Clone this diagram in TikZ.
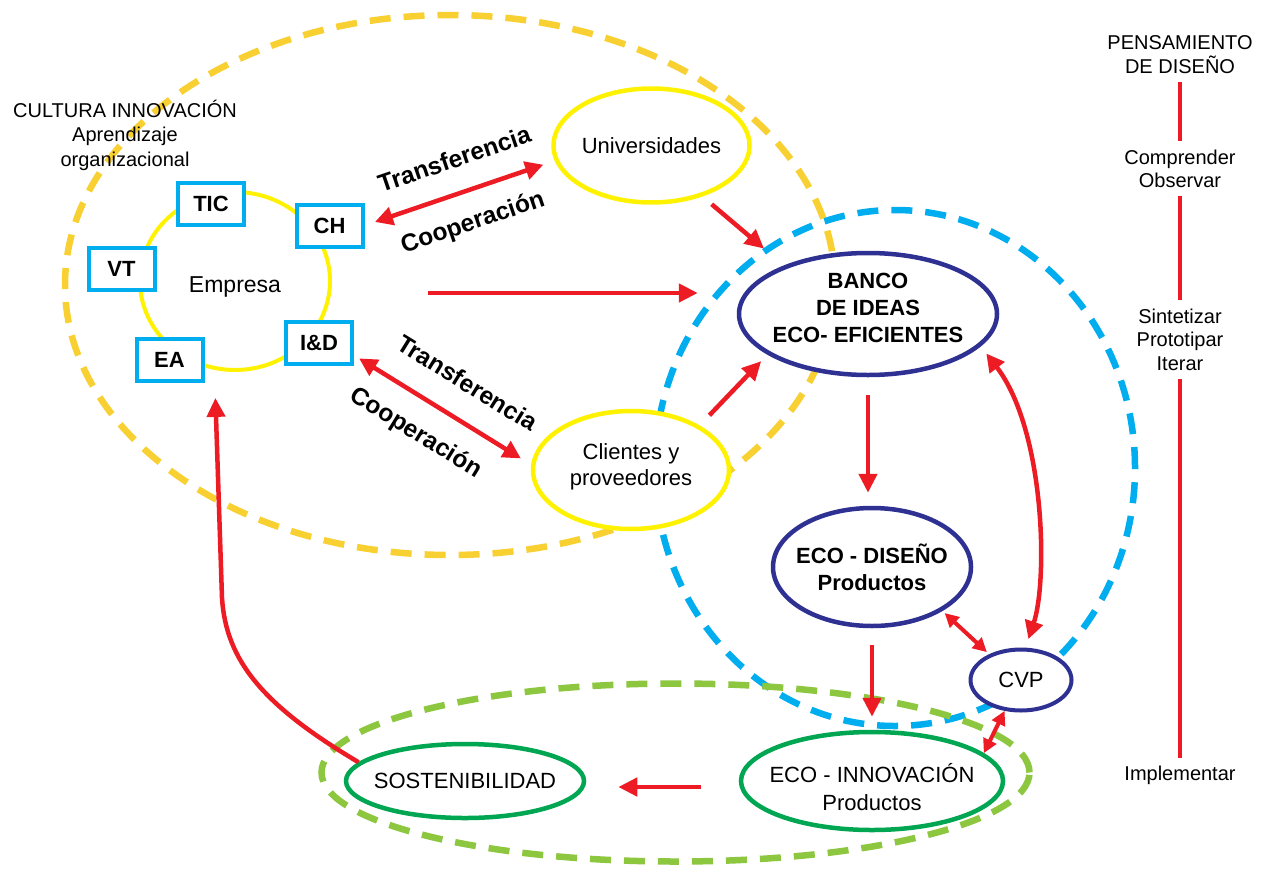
\documentclass[tikz,border=0pt]{standalone}
\usepackage{fontspec}
\setmainfont{Liberation Sans}
\usepackage{tikz}
\usetikzlibrary{arrows.meta,positioning,shapes.geometric}

\definecolor{zonegold}{RGB}{248,208,50}
\definecolor{ringyel}{RGB}{255,242,0}
\definecolor{tagcyan}{RGB}{0,174,239}
\definecolor{ovalnavy}{RGB}{46,49,146}
\definecolor{ovalgreen}{RGB}{0,166,81}
\definecolor{zonelime}{RGB}{141,198,63}
\definecolor{flowred}{RGB}{237,28,36}

\newcommand{\fsz}[2]{\fontsize{#1}{#2}\selectfont}

\begin{document}
\begin{tikzpicture}[x=1pt, y=-1pt,
			zone/.style={line width=6.5pt, dash pattern=on 21pt off 13pt},
			bubble/.style={ellipse, line width=4.5pt, fill=white, inner sep=0pt,
				inner xsep=-20pt, align=center, font=\fsz{22}{27}},
			yelnd/.style={bubble, draw=ringyel},
			navnd/.style={bubble, draw=ovalnavy},
			grnnd/.style={bubble, draw=ovalgreen},
			tagbox/.style={draw=tagcyan, line width=4pt, fill=white, inner sep=0pt,
				minimum width=66pt, minimum height=42pt, font=\fsz{22}{26}\bfseries},
			flow/.style={draw=flowred, line width=4.5pt, -{Triangle[length=19pt,width=18pt]}},
			biflow/.style={draw=flowred, line width=4.5pt,
				{Triangle[length=18pt,width=18pt]}-{Triangle[length=18pt,width=18pt]}},
			smallbi/.style={draw=flowred, line width=4pt,
				{Triangle[length=14pt,width=14pt]}-{Triangle[length=14pt,width=14pt]}},
			ann/.style={font=\fsz{24.5}{28}\bfseries, inner sep=0pt},
			sidetxt/.style={align=center, font=\fsz{20}{23.5}, inner xsep=0pt, inner ysep=8pt},
			vline/.style={draw=flowred, line width=4.5pt},
			]
			
			%% ── Canvas ───────────────────────────────────────────────────────────────────
			\path[use as bounding box, fill=white] (0,0) rectangle (1265,875);
			
			%% ── Dashed zones ─────────────────────────────────────────────────────────────
			\draw[zone, draw=zonegold] (450,285) ellipse [x radius=385pt, y radius=270pt];
			\draw[zone, draw=tagcyan]  (895,468) ellipse [x radius=240pt, y radius=258pt];
			\draw[zone, draw=zonelime] (675.5,772.5) ellipse [x radius=354pt, y radius=89pt];
			
			%% ── Empresa ring and its tags ────────────────────────────────────────────────
			\node[yelnd, line width=4pt, minimum width=190pt, minimum height=178pt,
				text height=28pt, font=\fsz{23}{27}] (empresa) at (235,281) {Empresa};
			\node[tagbox] (tic) at (211,204)     {TIC};
			\node[tagbox] (ch)  at (329.5,225.5) {CH};
			\node[tagbox] (vt)  at (121.5,268.5) {VT};
			\node[tagbox] (ea)  at (169.5,360)   {EA};
			\node[tagbox] (iad) at (319,342.5)   {I\&D};
			
			\node[align=center, font=\fsz{20}{24.5}] (cultura) at (125,135)
			{CULTURA INNOVACIÓN\\Aprendizaje\\organizacional};
			
			%% ── Partners ─────────────────────────────────────────────────────────────────
			\node[yelnd, minimum width=196pt, minimum height=114pt] (univ) at (651.5,145.5)
			{Universidades};
			\node[yelnd, minimum width=196pt, minimum height=118pt, text depth=11.5pt,
				font=\fsz{22}{26}] (clientes) at (631,470) {Clientes y\\proveedores};
			
			%% ── Eco chain ────────────────────────────────────────────────────────────────
			\node[navnd, minimum width=258pt, minimum height=122pt, text depth=12pt,
				font=\fsz{22}{27}\bfseries] (banco) at (868,314)
			{BANCO\\DE IDEAS\\ECO- EFICIENTES};
			\node[navnd, minimum width=198pt, minimum height=118pt,
				font=\fsz{22}{27}\bfseries] (ecodis) at (872,567)
			{ECO - DISEÑO\\Productos};
			\node[navnd, line width=4pt, minimum width=101pt, minimum height=61pt]
			(cvp) at (1021,680) {CVP};
			\node[grnnd, minimum width=238pt, minimum height=74pt] (sosten) at (465,781)
			{SOSTENIBILIDAD};
			\node[grnnd, minimum width=262pt, minimum height=98pt, text height=59pt,
				font=\fsz{22}{28}] (ecoinno) at (872,781) {ECO - INNOVACIÓN\\Productos};
			
			%% ── Transfer links ───────────────────────────────────────────────────────────
			\draw[biflow, shorten <=11pt, shorten >=12pt] (ch.east) -- (univ.189)
			node[ann, sloped, pos=0.53, above=23pt] {Transferencia}
			node[ann, sloped, pos=0.515, below=19pt] {Cooperación};
			\draw[biflow, shorten <=6pt, shorten >=12pt] (iad.-20) -- (clientes.177)
			node[ann, sloped, pos=0.533, above=25pt] {Transferencia}
			node[ann, sloped, pos=0.448, below=20pt] {Cooperación};
			
			%% ── Flows into the idea bank ─────────────────────────────────────────────────
			\draw[flow, shorten <=12pt, shorten >=26pt] (univ.-45) -- (banco.150);
			\draw[flow, shorten <=96pt, shorten >=39pt] ([yshift=-12pt]empresa.east)
			-- ([yshift=-12pt]empresa.east -| banco.west);
			\draw[flow, shorten <=14pt, shorten >=9pt] (clientes.33) -- (banco.202);
			
			%% ── Main chain ───────────────────────────────────────────────────────────────
			\draw[flow, shorten <=18pt, shorten >=13pt] (banco.south) -- (banco.south |- ecodis.north);
			\draw[flow, shorten <=17pt, shorten >=13pt] (ecodis.south) -- (ecodis.south |- ecoinno.north);
			\draw[flow, shorten <=38pt, shorten >=32pt] ([yshift=-6pt]ecoinno.west)
			-- ([yshift=-6pt]ecoinno.west -| sosten.east);
			
			%% ── CVP links ────────────────────────────────────────────────────────────────
			\draw[biflow, shorten <=9pt, shorten >=9pt] (banco.-16)
			.. controls (1045,430) and (1048,580) .. (cvp.82);
			\draw[smallbi, shorten <=3pt, shorten >=3pt] (ecodis.-32) -- (cvp.141);
			\draw[smallbi] (cvp.242) -- (ecoinno.14);
			
			%% ── Feedback to the company ──────────────────────────────────────────────────
			\coordinate (bend) at (222,598);
			\draw[flow, shorten >=28pt] (sosten.170) .. controls (262,705) and (226,660) .. (bend)
			-- (empresa.-103);
			
			%% ── Design thinking column ───────────────────────────────────────────────────
			\node[sidetxt] (pens) at (1180,54.8)  {PENSAMIENTO\\DE DISEÑO};
			\node[sidetxt] (comp) at (1180,168.7) {Comprender\\Observar};
			\node[sidetxt] (sint) at (1180,339.5) {Sintetizar\\Prototipar\\Iterar};
			\node[sidetxt] (impl) at (1180,775.8) {Implementar};
			\draw[vline] (pens) -- (comp);
			\draw[vline] (comp) -- (sint);
			\draw[vline] (sint) -- (impl);
			
		\end{tikzpicture}
\end{document}
